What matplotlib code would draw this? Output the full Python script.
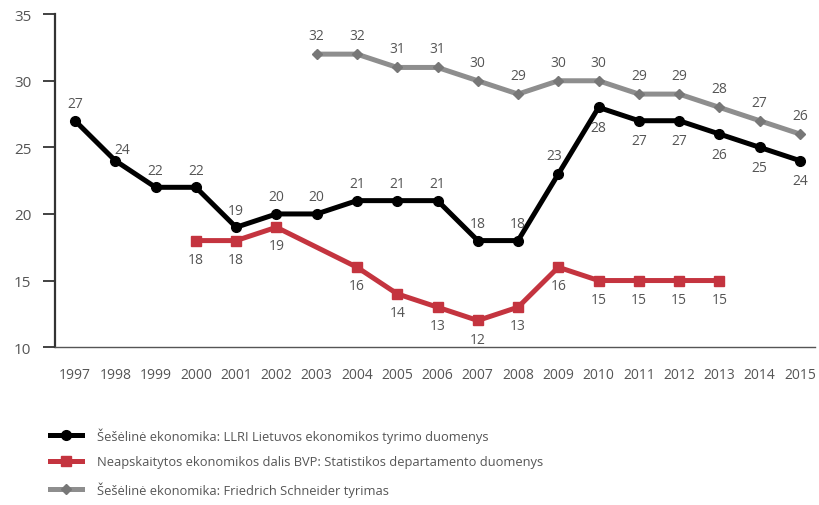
import matplotlib
matplotlib.use('Agg')
import matplotlib.pyplot as plt

plt.rcParams['font.family'] = ['Open Sans', 'DejaVu Sans']

# duomenys (%, BVP)
years = list(range(1997, 2016))
llri = [27, 24, 22, 22, 19, 20, 20, 21, 21, 21, 18, 18, 23, 28, 27, 27, 26, 25, 24]

stat_years = [2000, 2001, 2002, 2004, 2005, 2006, 2007, 2008, 2009, 2010, 2011, 2012, 2013]
stat = [18, 18, 19, 16, 14, 13, 12, 13, 16, 15, 15, 15, 15]

schneider_years = list(range(2003, 2016))
schneider = [32, 32, 31, 31, 30, 29, 30, 30, 29, 29, 28, 27, 26]

labels = [
    'Šešėlinė ekonomika: LLRI Lietuvos ekonomikos tyrimo duomenys',
    'Neapskaitytos ekonomikos dalis BVP: Statistikos departamento duomenys',
    'Šešėlinė ekonomika: Friedrich Schneider tyrimas',
]

TXT = '#555555'
BLACK = '#000000'
RED = '#c4343f'
GREY = '#8e8e8e'

fig = plt.figure(figsize=(8.19, 5.06), dpi=100)
ax = fig.add_axes([0.067, 0.312, 0.928, 0.658])

l1, = ax.plot(years, llri, color=BLACK, lw=3.6, marker='o', ms=7, zorder=3)
l2, = ax.plot(stat_years, stat, color=RED, lw=3.6, marker='s', ms=7, zorder=3)
l3, = ax.plot(schneider_years, schneider, color=GREY, lw=3.6, marker='D', ms=5,
              mfc='#777777', mec='#777777', zorder=3)

# reikšmių žymos
for x, y in zip(years, llri):
    if x >= 2010:
        ax.annotate(str(y), (x, y), xytext=(0, -9), textcoords='offset points',
                    ha='center', va='top', color=TXT, fontsize=10)
    elif x == 2009:
        ax.annotate(str(y), (x, y), xytext=(-3, 8), textcoords='offset points',
                    ha='center', va='bottom', color=TXT, fontsize=10)
    elif x == 1998:
        ax.annotate(str(y), (x, y), xytext=(5, 3), textcoords='offset points',
                    ha='center', va='bottom', color=TXT, fontsize=10)
    else:
        ax.annotate(str(y), (x, y), xytext=(0, 7), textcoords='offset points',
                    ha='center', va='bottom', color=TXT, fontsize=10)

for x, y in zip(stat_years, stat):
    ax.annotate(str(y), (x, y), xytext=(0, -8), textcoords='offset points',
                ha='center', va='top', color=TXT, fontsize=10)

for x, y in zip(schneider_years, schneider):
    ax.annotate(str(y), (x, y), xytext=(0, 8), textcoords='offset points',
                ha='center', va='bottom', color=TXT, fontsize=10)

ax.set_xlim(1996.5, 2015.37)
ax.set_ylim(10, 35)
ax.set_yticks([10, 15, 20, 25, 30, 35])
ax.set_xticks(years)
ax.set_xticklabels([str(y) for y in years])

for s in ['top', 'right']:
    ax.spines[s].set_visible(False)
ax.spines['left'].set_color('#333333')
ax.spines['bottom'].set_color('#555555')
ax.spines['left'].set_linewidth(1.6)
ax.spines['bottom'].set_linewidth(1.0)

ax.tick_params(axis='y', length=9, width=1.3, color='#333333', labelcolor=TXT,
               labelsize=11, pad=8)
ax.tick_params(axis='x', length=0, labelcolor=TXT, labelsize=10, pad=14)

fig.legend([l1, l2, l3], labels, loc='upper left', bbox_to_anchor=(0.047, 0.177),
           frameon=False, numpoints=1, handlelength=2.5, handletextpad=1.1,
           labelspacing=1.0, fontsize=9.3, labelcolor=TXT)

fig.savefig('out.png', dpi=100)
